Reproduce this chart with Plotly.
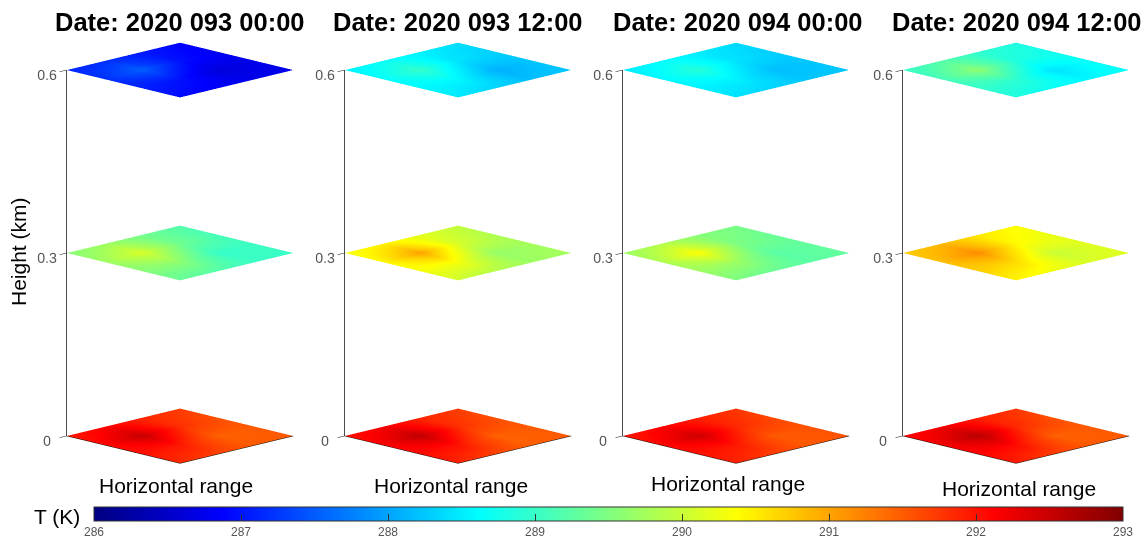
import numpy as np
import plotly.graph_objects as go

# ---------------- data ----------------
TITLES = ["Date: 2020 093 00:00", "Date: 2020 093 12:00",
          "Date: 2020 094 00:00", "Date: 2020 094 12:00"]
HEIGHTS = [0.0, 0.3, 0.6]            # km
GRID = [0.0, 1/3, 2/3, 1.0]          # normalised horizontal range (x and y)
CB_TICKS = [286, 287, 288, 289, 290, 291, 292, 293]

# temperature (K), rows = y, columns = x
T1_0 = [[291.85, 291.65, 291.50, 291.50],
        [292.00, 291.95, 291.45, 291.50],
        [292.05, 292.50, 291.80, 291.55],
        [291.95, 292.10, 291.85, 291.70]]
T1_3 = [[289.35, 289.20, 289.05, 289.00],
        [289.55, 289.60, 289.00, 289.05],
        [289.70, 290.10, 289.40, 289.10],
        [289.55, 289.70, 289.40, 289.20]]
T1_6 = [[286.95, 286.85, 286.75, 286.75],
        [287.10, 287.00, 286.65, 286.75],
        [287.20, 287.55, 287.00, 286.80],
        [287.15, 287.20, 287.05, 286.90]]

T2_0 = [[291.90, 291.65, 291.45, 291.50],
        [292.05, 292.00, 291.45, 291.50],
        [292.10, 292.55, 291.80, 291.55],
        [292.00, 292.15, 291.85, 291.70]]
T2_3 = [[290.05, 289.85, 289.70, 289.75],
        [290.30, 290.30, 289.65, 289.75],
        [290.40, 291.00, 290.10, 289.80],
        [290.30, 290.45, 290.15, 289.95]]
T2_6 = [[288.50, 288.35, 288.20, 288.25],
        [288.60, 288.60, 288.10, 288.25],
        [288.65, 289.00, 288.45, 288.30],
        [288.55, 288.70, 288.55, 288.40]]

T3_0 = [[291.90, 291.70, 291.50, 291.55],
        [292.00, 291.95, 291.50, 291.55],
        [292.05, 292.45, 291.85, 291.60],
        [291.95, 292.10, 291.90, 291.75]]
T3_3 = [[289.50, 289.35, 289.25, 289.30],
        [289.70, 289.70, 289.25, 289.30],
        [289.80, 290.35, 289.50, 289.35],
        [289.70, 289.85, 289.55, 289.45]]
T3_6 = [[288.45, 288.35, 288.25, 288.25],
        [288.55, 288.55, 288.20, 288.25],
        [288.60, 288.90, 288.45, 288.30],
        [288.50, 288.65, 288.50, 288.40]]

T4_0 = [[291.95, 291.70, 291.50, 291.50],
        [292.10, 292.05, 291.45, 291.50],
        [292.15, 292.60, 291.85, 291.55],
        [292.05, 292.20, 291.90, 291.75]]
T4_3 = [[290.45, 290.25, 290.10, 290.15],
        [290.70, 290.60, 290.00, 290.15],
        [290.80, 291.15, 290.40, 290.20],
        [290.70, 290.85, 290.50, 290.35]]
T4_6 = [[288.85, 288.70, 288.60, 288.70],
        [289.00, 288.95, 288.45, 288.70],
        [289.10, 289.60, 288.85, 288.75],
        [289.00, 289.20, 288.95, 288.85]]

PANELS = [[T1_0, T1_3, T1_6], [T2_0, T2_3, T2_6],
          [T3_0, T3_3, T3_6], [T4_0, T4_3, T4_6]]

# ---------------- style ----------------
W, H = 1145, 541
JET = [[0.0, "rgb(0,0,128)"], [0.125, "rgb(0,0,255)"], [0.375, "rgb(0,255,255)"],
       [0.625, "rgb(255,255,0)"], [0.875, "rgb(255,0,0)"], [1.0, "rgb(128,0,0)"]]
FONT = "Liberation Sans, Arial, sans-serif"
AXIS_X = [67, 345, 623, 903]         # pixel position of each panel's height axis
DOM_L, DOM_R = 45, 233               # domain extent around the axis (px)
DOM_TOP, DOM_BOT = 33, 473
K_PX = 219.5                         # approx. pixels per camera unit (calibrated)

fig = go.Figure()
gx, gy = np.meshgrid(GRID, GRID)
for p, slices in enumerate(PANELS):
    scene = "scene" if p == 0 else f"scene{p+1}"
    for h, T in zip(HEIGHTS, slices):
        fig.add_trace(go.Surface(
            x=gx, y=gy, z=np.full_like(gx, h), surfacecolor=np.array(T),
            coloraxis="coloraxis", scene=scene, showscale=False,
            lighting=dict(ambient=1, diffuse=0, specular=0, roughness=1, fresnel=0),
            hoverinfo="skip", contours=dict(x=dict(highlight=False), y=dict(highlight=False), z=dict(highlight=False))))

r = 1.61
el = np.deg2rad(14.0)
edir = np.array([-np.cos(el)/np.sqrt(2), -np.cos(el)/np.sqrt(2), np.sin(el)])
right = np.array([1.0, -1.0, 0.0]) / np.sqrt(2)
hid = dict(showgrid=False, zeroline=False, showline=True, linecolor="black", linewidth=1,
           showticklabels=False, ticks="", title="", showbackground=False, showspikes=False,
           range=[0, 1])
layout_scenes = {}
for p in range(4):
    name = "scene" if p == 0 else f"scene{p+1}"
    ax = AXIS_X[p]
    d0, d1 = max(0, ax - DOM_L), min(W, ax + DOM_R)
    shift = (ax + 113) - (d0 + d1) / 2          # box centre offset from domain centre (px)
    ctr = -shift / K_PX * right
    eye = ctr + r * edir
    layout_scenes[name] = dict(
        domain=dict(x=[d0/W, d1/W], y=[1 - DOM_BOT/H, 1 - DOM_TOP/H]),
        xaxis=hid, yaxis=hid,
        zaxis=dict(showgrid=False, zeroline=False, showline=True, linecolor="#111", linewidth=1.5,
                   ticks="outside", ticklen=7, tickcolor="#111", tickangle=0,
                   tickvals=[0, 0.3, 0.6], ticktext=["0", "0.3", "0.6"],
                   tickfont=dict(size=13, color="#555", family=FONT),
                   title="", showbackground=False, showspikes=False, range=[0, 0.6]),
        aspectmode="manual", aspectratio=dict(x=0.729, y=0.729, z=1.714),
        camera=dict(eye=dict(x=eye[0], y=eye[1], z=eye[2]), up=dict(x=0, y=0, z=1),
                    center=dict(x=ctr[0], y=ctr[1], z=ctr[2]),
                    projection=dict(type="orthographic")),
        bgcolor="rgba(0,0,0,0)")
fig.update_layout(**layout_scenes)

fig.update_layout(
    width=W, height=H, margin=dict(l=0, r=0, t=0, b=0, autoexpand=False),
    paper_bgcolor="white", plot_bgcolor="white", showlegend=False,
    coloraxis=dict(cmin=286, cmax=293, colorscale=JET,
                   colorbar=dict(orientation="h", x=(94 + 1123)/2/W, xanchor="center",
                                 len=(1123 - 94)/W, lenmode="fraction", thickness=14,
                                 y=1 - 507/H, yanchor="top", xpad=0, ypad=0,
                                 outlinecolor="#333", outlinewidth=1,
                                 ticks="inside", ticklen=7, tickcolor="#333",
                                 tickvals=CB_TICKS,
                                 tickfont=dict(size=12, color="#555", family=FONT))),
    font=dict(family=FONT))

annotations = []
title_x = [180, 458, 738, 1017]
range_x = [176, 451, 728, 1019]
range_y = [485, 485, 483, 488]
for p in range(4):
    annotations.append(dict(text=f"<b>{TITLES[p]}</b>", x=title_x[p]/W, y=1 - 22/H, xref="paper", yref="paper",
                            showarrow=False, font=dict(size=25.5, color="black", family=FONT),
                            xanchor="center", yanchor="middle"))
    annotations.append(dict(text="Horizontal range", x=range_x[p]/W, y=1 - range_y[p]/H, xref="paper", yref="paper",
                            showarrow=False, font=dict(size=21, color="black", family=FONT),
                            xanchor="center", yanchor="middle"))
annotations.append(dict(text="Height (km)", x=18/W, y=1 - 252/H, xref="paper", yref="paper", textangle=-90,
                        showarrow=False, font=dict(size=21, color="black", family=FONT),
                        xanchor="center", yanchor="middle"))
annotations.append(dict(text="T (K)", x=57/W, y=1 - 516/H, xref="paper", yref="paper",
                        showarrow=False, font=dict(size=21, color="black", family=FONT),
                        xanchor="center", yanchor="middle"))
fig.update_layout(annotations=annotations)

fig.write_html("out.html")
